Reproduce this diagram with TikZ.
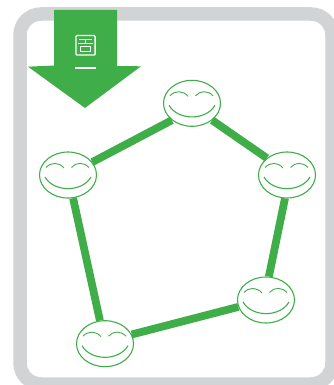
\documentclass[tikz,border=0pt]{standalone}
\usepackage{tikz}
\usetikzlibrary{shapes.geometric}
\definecolor{leaf}{HTML}{3FAE49}
\definecolor{framegray}{HTML}{D1D3D4}

% one smiling face inside a named ellipse
\newcommand{\smileface}[1]{
    \draw[faceline] ([shift={(-23,2)}]#1.center) .. controls ([shift={(-14,17.5)}]#1.center) and ([shift={(14,17.5)}]#1.center) .. ([shift={(23,2)}]#1.center);
    \draw[eyeline] ([shift={(-22,-7.5)}]#1.center) .. controls ([shift={(-17,-13)}]#1.center) and ([shift={(-9,-13)}]#1.center) .. ([shift={(-4,-7)}]#1.center);
    \draw[eyeline] ([shift={(3.5,-7.5)}]#1.center) .. controls ([shift={(8,-13)}]#1.center) and ([shift={(16,-13)}]#1.center) .. ([shift={(21,-7.5)}]#1.center);
}

\begin{document}
\begin{tikzpicture}[x=1pt,y=-1pt]
    % --- DEFINE STYLES ---
    \tikzset{
        smiley/.style={ellipse, draw=leaf, fill=white, line width=1.1pt, inner sep=0pt, minimum width=57pt, minimum height=46pt},
        link/.style={draw=leaf, line width=7.8pt},
        faceline/.style={draw=leaf, line width=1.1pt},
        eyeline/.style={draw=leaf, line width=0.9pt},
        iconline/.style={draw=white, line width=1.3pt}
    }
    \useasboundingbox (0,0) rectangle (334,385);

    % Frame
    \draw[framegray, line width=13.5pt, rounded corners=21pt] (20,14) rectangle (332,384);

    % Faces
    \node[smiley] (topface) at (192,103.3) {};
    \node[smiley] (rightface) at (287,175) {};
    \node[smiley] (lowrightface) at (266,300) {};
    \node[smiley] (lowleftface) at (105,343.7) {};
    \node[smiley] (leftface) at (68,175) {};

    % Links between faces
    \foreach \a/\b in {topface.-40/rightface.140, rightface.-95/lowrightface.83, lowrightface.-166/lowleftface.19, lowleftface/leftface, leftface.28/topface.-140} {
        \draw[link] (\a) -- (\b);
    }

    \foreach \n in {topface, rightface, lowrightface, lowleftface, leftface} {
        \smileface{\n}
    }

    % Arrow
    \fill[leaf] (54,10) -- (117,10) -- (117,66) -- (141,66.3) -- (85,108) -- (28,66.7) -- (54,65.5) -- cycle;

    % Icon on the arrow
    \draw[iconline, rounded corners=1pt] (75.9,35.6) rectangle (95.1,55.1);
    \draw[iconline] (79,39.5) -- (92,39.5) (85.5,39.5) -- (85.5,43) (78,43.5) -- (93,43.5);
    \draw[iconline] (80.5,46.5) rectangle (90.5,51.5);
    \draw[white, line width=1.7pt] (75,67.8) -- (96,67.8);
\end{tikzpicture}
\end{document}
